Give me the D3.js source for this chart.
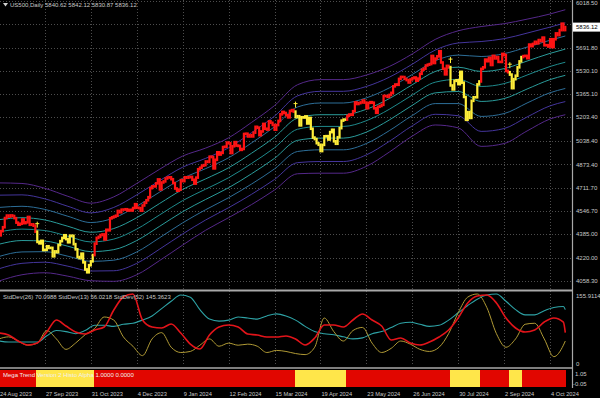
<!DOCTYPE html>
<html>
<head>
<meta charset="utf-8">
<script src="https://cdnjs.cloudflare.com/ajax/libs/d3/7.8.5/d3.min.js"></script>
<style>
  html, body { margin: 0; padding: 0; background: #000; }
  svg { display: block; font-family: "Liberation Sans", Arial, sans-serif; }
</style>
</head>
<body>
<div id="chart"></div>
<script>
// daily closes, 24 Aug 2023 .. 16 Oct 2024 (one per bar)
var closes = [
  4376.3,4405.7,4433.3,4497.6,4514.9,4507.7,
  4515.8,4512.0,4496.8,4465.5,4451.1,4457.5,4487.5,4461.9,4467.4,4505.1,4450.3,4453.5,4444.0,4402.2,4330.0,4320.1,4337.4,4273.5,4274.5,4299.7,4288.1,
  4288.4,4229.5,4263.8,4258.2,4308.5,4335.7,4358.2,4377.0,4349.6,4327.8,4373.6,4373.2,4314.6,4278.0,4224.2,4217.0,4247.7,4186.8,4137.2,4117.4,4166.8,4193.8,
  4237.9,4317.8,4358.3,4366.0,4378.4,4382.8,4347.4,4415.2,4411.6,4495.7,4502.9,4508.2,4514.0,4547.4,4538.2,4556.6,4557.0,4559.3,4550.4,4554.9,4550.6,4567.8,
  4594.6,4569.8,4567.2,4549.3,4585.6,4604.4,4622.4,4643.7,4707.1,4719.6,4719.2,4740.6,4768.4,4698.4,4746.8,4754.6,4774.8,4781.6,4783.4,4769.8,
  4742.8,4704.8,4688.7,4697.2,4763.5,4756.5,4783.5,4780.2,4783.8,4786.0,4766.0,4739.2,4780.9,4839.8,4850.4,4864.6,4868.6,4894.2,4891.0,4927.9,4925.0,4845.7,
  4906.2,4958.6,4942.8,4954.2,4995.1,4997.9,5026.6,5021.8,4953.2,5000.6,5029.7,5005.6,5003.0,4975.5,4981.8,5087.0,5088.8,5069.5,5078.2,5069.8,5096.3,
  5137.1,5131.0,5078.7,5104.8,5157.4,5123.7,5117.9,5175.3,5165.3,5150.5,5117.1,5149.4,5178.5,5224.6,5241.5,5234.2,5218.2,5203.6,5248.5,5254.4,
  5243.8,5205.8,5211.5,5147.2,5204.3,5202.4,5209.9,5160.6,5199.1,5123.4,5061.8,5051.4,5022.2,5011.1,4967.2,5010.6,5070.6,5071.6,5048.4,5100.0,5116.2,5035.7,
  5018.4,5064.2,5127.8,5180.7,5187.7,5187.7,5214.1,5222.7,5221.4,5246.7,5308.2,5297.1,5303.3,5308.1,5321.4,5307.0,5267.8,5304.7,5310.0,5306.0,5267.0,5235.5,5277.5,
  5283.4,5291.3,5354.0,5353.0,5347.0,5360.8,5375.3,5421.0,5433.7,5431.6,5473.2,5487.0,5486.0,5473.2,5464.6,5447.9,5469.3,5477.9,5482.9,5460.5,
  5475.1,5509.0,5537.0,5545.0,5567.2,5572.9,5577.0,5633.9,5584.5,5615.4,5631.2,5667.2,5588.3,5544.6,5505.0,5564.4,5555.7,5427.1,5399.2,5459.1,5463.5,5436.4,5522.3,
  5446.7,5346.6,5186.3,5240.0,5199.5,5319.3,5344.2,5344.4,5434.4,5455.2,5543.2,5554.3,5608.3,5597.1,5620.9,5570.6,5634.6,5616.8,5625.8,5592.2,5592.0,5648.4,
  5640.0,5528.9,5520.1,5503.4,5408.4,5471.1,5495.5,5554.1,5595.8,5626.0,5633.1,5634.6,5618.3,5713.6,5702.6,5718.6,5732.9,5722.3,5745.4,5738.2,5762.5,
  5708.8,5709.5,5699.9,5751.1,5695.9,5751.1,5792.0,5780.1,5815.0,5859.9,5815.3,5836.12
];
var noBarDays = ["2023-12-25", "2024-01-01", "2024-03-29"];

// trend state: yellow periods (the rest is red)
var yellowFrom = ["2023-09-21", "2024-04-02", "2024-07-24", "2024-09-05"];
var yellowTo   = ["2023-11-01", "2024-05-08", "2024-08-14", "2024-09-13"];

// envelope: middle line and spacing, one value every 12 bars (+ last bar)
var bandMid  = [4400,4420,4410,4370,4330,4350,4420,4520,4620,4700,4780,4880,4990,5120,5140,5140,5180,5260,5360,5450,5470,5420,5440,5500,5560,5590];
var bandStep = [86,80,74,70,68,74,80,80,78,72,70,72,74,78,82,82,80,75,72,75,85,105,105,98,92,92];
var bandLevels = [-4,-3,-2,-1,0,1,2,3,4];

// StdDev sub window, one value every 5 bars (+ last bar)
var sd26 = [69.0,64.6,51.2,42.3,46.8,71.3,98.0,84.6,71.3,66.8,75.7,82.4,120.3,149.2,155.9,98.0,82.4,80.2,89.1,69.0,44.5,33.4,64.6,82.4,86.9,82.4,66.8,64.6,60.1,60.1,62.4,55.7,42.3,57.9,86.9,86.9,82.4,98.0,111.4,98.0,84.6,53.5,57.9,46.8,42.3,49.0,60.1,75.7,102.5,135.9,151.5,153.7,135.9,102.5,80.2,71.3,75.7,93.5,102.5,93.5,70.1];
var sd13 = [61.1,66.2,56.0,45.8,50.9,81.5,61.1,35.7,50.9,71.3,86.6,114.6,107.0,66.2,43.3,20.4,61.1,76.4,40.8,28.0,30.6,45.8,61.1,43.3,50.9,45.8,48.4,43.3,28.0,33.1,30.6,25.5,22.9,40.8,112.1,79.0,56.0,81.5,89.1,50.9,28.0,38.2,56.0,48.4,35.7,30.6,40.8,73.9,124.8,163.0,170.6,137.5,73.9,40.8,61.1,96.8,99.3,61.1,17.8,45.8,56.0];
var sd52 = [61.5,58.7,58.7,58.7,58.7,75.5,89.5,86.7,81.1,89.5,103.5,103.5,100.7,106.2,109.0,117.4,128.6,148.2,167.8,184.5,178.9,145.4,120.2,114.6,117.4,125.8,123.0,120.2,128.6,134.2,128.6,117.4,100.7,86.7,81.1,78.3,72.7,67.1,69.9,81.1,86.7,97.9,109.0,111.8,106.2,100.7,103.5,117.4,137.0,156.6,173.4,184.5,187.3,167.8,145.4,131.4,131.4,142.6,151.0,153.8,145.4];

var priceTicks = [6018.5,5855.15,5691.8,5530.1,5365.1,5203.4,5038.4,4873.4,4711.7,4546.7,4385.0,4220.0,4058.3];
var timeLabels = ["24 Aug 2023","27 Sep 2023","31 Oct 2023","4 Dec 2023","9 Jan 2024","12 Feb 2024","15 Mar 2024","19 Apr 2024","23 May 2024","26 Jun 2024","30 Jul 2024","2 Sep 2024","4 Oct 2024"];
var title = "US500,Daily  5840.62 5842.12 5830.87 5836.12";
var sdTitle = "StdDev(26) 70.0988  StdDev(13) 56.0218  StdDev(52) 145.3623";
var trendTitle = "Mega Trend Version 2 Histo Alpha 1.0000 0.0000";

// ---- bar calendar (weekdays, minus days without a bar)
var key = d3.utcFormat("%Y-%m-%d");
var dates = [];
for (var d = new Date(Date.UTC(2023, 7, 24)); dates.length < closes.length; d.setUTCDate(d.getUTCDate() + 1)) {
  var wd = d.getUTCDay();
  if (wd === 0 || wd === 6 || noBarDays.indexOf(key(d)) >= 0) continue;
  dates.push(key(d));
}
var last = closes.length - 1;

function isYellow(i) {
  for (var k = 0; k < yellowFrom.length; k++) {
    if (dates[i] >= yellowFrom[k] && dates[i] <= yellowTo[k]) return true;
  }
  return false;
}

var W = 600, H = 398, plotR = 572;
var svg = d3.select("#chart").append("svg").attr("width", W).attr("height", H);
svg.append("rect").attr("width", W).attr("height", H).attr("fill", "#000");

var defs = svg.append("defs");
defs.append("clipPath").attr("id", "clipMain").append("rect").attr("x", 0).attr("y", 0).attr("width", plotR).attr("height", 289);
defs.append("clipPath").attr("id", "clipSub").append("rect").attr("x", 0).attr("y", 292).attr("width", plotR).attr("height", 74);

var x = d3.scaleLinear().domain([0, 288]).range([-1, 550]);
var y = d3.scaleLinear().domain([4058.3, 5691.8]).range([280.7, 47.7]);

// grid
var grid = svg.append("g").attr("stroke", "#4d4d4d").attr("stroke-dasharray", "1,2").attr("stroke-width", 1);
grid.selectAll("line.h").data(priceTicks).join("line")
  .attr("x1", 0).attr("x2", plotR)
  .attr("y1", function(d) { return Math.round(y(d)) + 0.5; })
  .attr("y2", function(d) { return Math.round(y(d)) + 0.5; });
var labelIdx = timeLabels.map(function(t) { return dates.indexOf(key(d3.utcParse("%d %b %Y")(t))); });
grid.selectAll("line.v").data(labelIdx).join("line")
  .attr("x1", function(i) { return Math.round(x(i)) + 0.5; })
  .attr("x2", function(i) { return Math.round(x(i)) + 0.5; })
  .attr("y1", 0).attr("y2", 366);

// envelope lines
var bandIdx = d3.range(0, last, 12).concat([last]);
var bandColor = { 4: "#55288a", 3: "#44359c", 2: "#2d6e98", 1: "#2a9b9a", 0: "#1f8a8c" };
var gBand = svg.append("g").attr("clip-path", "url(#clipMain)").attr("fill", "none");
bandLevels.forEach(function(k) {
  var line = d3.line()
    .x(function(d, j) { return x(bandIdx[j]); })
    .y(function(d, j) { return y(bandMid[j] + k * bandStep[j]); })
    .curve(d3.curveMonotoneX);
  gBand.append("path").datum(bandMid).attr("d", line)
    .attr("stroke", bandColor[Math.abs(k)]).attr("stroke-width", 1);
});

// candles (body from previous close)
var gC = svg.append("g").attr("clip-path", "url(#clipMain)");
gC.selectAll("rect").data(closes).join("rect")
  .attr("x", function(d, i) { return x(i) - 1.1; })
  .attr("width", 2.2)
  .attr("y", function(d, i) { var o = i ? closes[i - 1] : d; return y(Math.max(o, d)) - 1.3; })
  .attr("height", function(d, i) { var o = i ? closes[i - 1] : d; return Math.abs(y(o) - y(d)) + 2.6; })
  .attr("fill", function(d, i) { return isYellow(i) ? "#ffee3a" : "#ff1414"; });

// markers at start of yellow runs
var starts = yellowFrom.map(function(s) { return dates.indexOf(s); });
var gM = svg.append("g").attr("stroke", "#ffee3a").attr("stroke-width", 1);
starts.forEach(function(i) {
  var top = y(Math.max(closes[i - 1], closes[i])) - 4;
  gM.append("line").attr("x1", x(i)).attr("x2", x(i)).attr("y1", top - 6).attr("y2", top);
  gM.append("line").attr("x1", x(i) - 2).attr("x2", x(i) + 2).attr("y1", top - 4).attr("y2", top - 4);
});

// StdDev sub window
var sdIdx = d3.range(0, last, 5).concat([last]);
var gS = svg.append("g").attr("clip-path", "url(#clipSub)").attr("fill", "none");
[[sd52, "#2ea3a6", 1.1], [sd13, "#b09a35", 1], [sd26, "#e3141a", 1.6]].forEach(function(s) {
  var ys = d3.scaleLinear().domain([0, d3.max(s[0])]).range([364, 294]);
  var line = d3.line()
    .x(function(d, j) { return x(sdIdx[j]); })
    .y(function(d) { return ys(d); })
    .curve(d3.curveMonotoneX);
  gS.append("path").datum(s[0]).attr("d", line).attr("stroke", s[1]).attr("stroke-width", s[2]);
});

// trend histogram (contiguous columns)
svg.append("g").attr("shape-rendering", "crispEdges").selectAll("rect").data(closes).join("rect")
  .attr("x", function(d, i) { return Math.round(x(i) - 0.96); })
  .attr("width", function(d, i) { return Math.round(x(i + 1) - 0.96) - Math.round(x(i) - 0.96); })
  .attr("y", 370).attr("height", 17)
  .attr("fill", function(d, i) { return isYellow(i) ? "#ffe64a" : "#e10600"; });

// frames
var frame = svg.append("g").attr("stroke", "#a8a8a8");
frame.append("line").attr("x1", 0).attr("x2", plotR).attr("y1", 290.5).attr("y2", 290.5).attr("stroke-width", 2);
frame.append("line").attr("x1", 0).attr("x2", plotR).attr("y1", 368).attr("y2", 368).attr("stroke-width", 1.5);
frame.append("line").attr("x1", plotR + 0.5).attr("x2", plotR + 0.5).attr("y1", 0).attr("y2", 388).attr("stroke-width", 1.2);

// texts
var txt = svg.append("g").attr("fill", "#c8c8c8").attr("font-size", 6);
txt.append("path").attr("d", "M3,3 L8,3 L5.5,6.5 Z").attr("fill", "#d0d0d0");
txt.append("text").attr("x", 10).attr("y", 7.2).text(title);
txt.append("text").attr("x", 3).attr("y", 299).text(sdTitle);
txt.append("text").attr("x", 3).attr("y", 377).attr("fill", "#f0f0f0").text(trendTitle);

var lastY = y(closes[last]);
txt.selectAll("text.p").data(priceTicks.filter(function(p) { return Math.abs(y(p) - lastY) > 8; })).join("text")
  .attr("x", 576).attr("y", function(p) { return Math.max(y(p) + 2.1, 5); })
  .text(function(p) { return p.toFixed(2); });
svg.append("rect").attr("x", 573).attr("y", lastY - 4.5).attr("width", 27).attr("height", 9).attr("fill", "#fff");
svg.append("text").attr("x", 576).attr("y", lastY + 2.1).attr("font-size", 6).attr("fill", "#000").text(closes[last].toFixed(2));

txt.append("text").attr("x", 576).attr("y", 298).text("155.9114");
txt.append("text").attr("x", 576).attr("y", 366).text("0");
txt.append("text").attr("x", 575).attr("y", 376).text("1.05");
txt.append("text").attr("x", 573).attr("y", 386).text("-0.05");

txt.selectAll("text.t").data(timeLabels).join("text")
  .attr("x", function(t, j) { return x(labelIdx[j]) + 1; })
  .attr("y", 395.5).attr("font-size", 5.7)
  .text(function(t) { return t; });
</script>
</body>
</html>
